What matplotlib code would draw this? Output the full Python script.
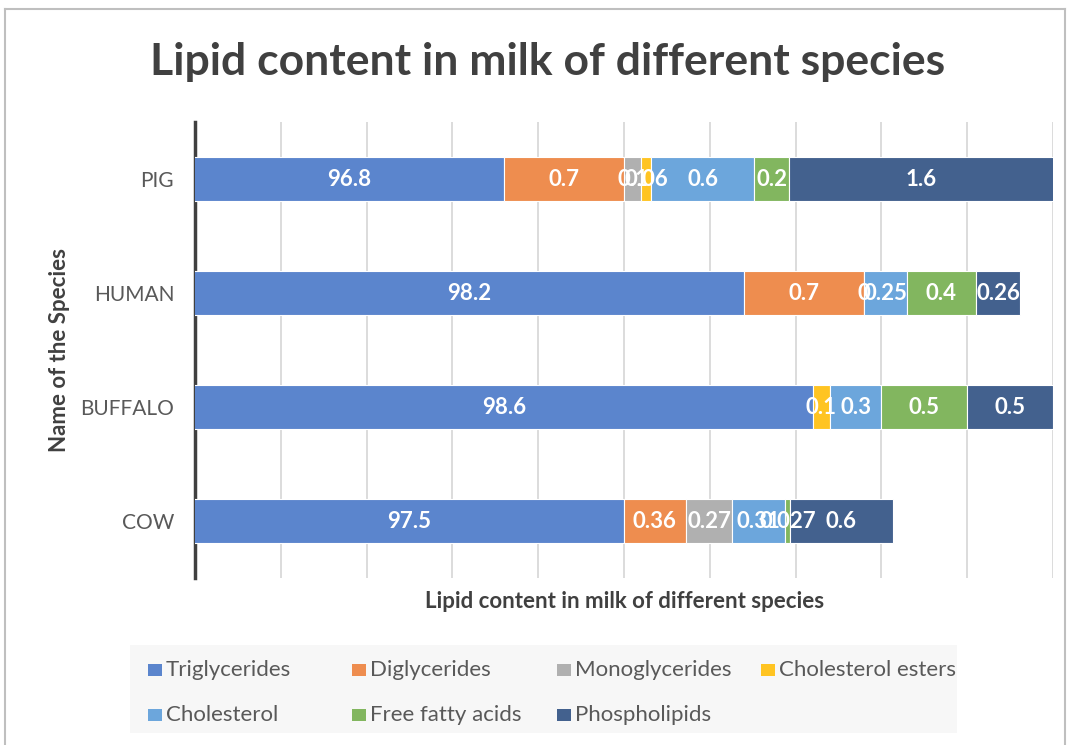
import matplotlib
matplotlib.use("Agg")
import matplotlib.pyplot as plt
from matplotlib.patches import Rectangle
from matplotlib.lines import Line2D
import numpy as np

nan = np.nan

species = ['COW', 'BUFFALO', 'HUMAN', 'PIG']
lipids = ['Triglycerides', 'Diglycerides', 'Monoglycerides', 'Cholesterol esters',
          'Cholesterol', 'Free fatty acids', 'Phospholipids']

triglycerides = [97.5, 98.6, 98.2, 96.8]
diglycerides = [0.36, nan, 0.7, 0.7]
monoglycerides = [0.27, nan, nan, 0.1]
cholesterol_esters = [nan, 0.1, 0, 0.06]
cholesterol = [0.31, 0.3, 0.25, 0.6]
free_fatty_acids = [0.027, 0.5, 0.4, 0.2]
phospholipids = [0.6, 0.5, 0.26, 1.6]

series = [triglycerides, diglycerides, monoglycerides, cholesterol_esters,
          cholesterol, free_fatty_acids, phospholipids]
colors = ['#5B85CD', '#EE8D4F', '#B0B0B0', '#FFC422', '#6CA6DC', '#82B65F', '#43618E']

W, H = 1070, 745
fig = plt.figure(figsize=(W / 100, H / 100), dpi=100)
plt.rcParams['font.family'] = ['Lato', 'DejaVu Sans']

# plot area in pixels: x 195..1053, y 122..578
ax = fig.add_axes([195 / W, 1 - 578 / H, 858 / W, 456 / H])
xmin, xmax = 95, 100
ax.set_xlim(xmin, xmax)
ax.set_ylim(-0.5, len(species) - 0.5)

y = np.arange(len(species))
left = np.zeros(len(species))
for vals, col, name in zip(series, colors, lipids):
    v = np.array(vals, dtype=float)
    present = ~np.isnan(v)
    vv = np.where(present, v, 0)
    ax.barh(y[present], vv[present], left=left[present], height=0.38,
            color=col, edgecolor='white', linewidth=0.8, label=name, zorder=3)
    for i in np.where(present)[0]:
        a = max(left[i], xmin)
        b = min(left[i] + vv[i], xmax)
        ax.text((a + b) / 2, y[i], f"{vals[i]:g}", ha='center', va='center',
                color='white', fontsize=16, fontweight='bold', zorder=4,
                clip_on=False)
    left = left + vv

ax.set_xticks(np.arange(xmin, xmax + 0.01, 0.5))
ax.set_xticklabels([])
ax.tick_params(axis='x', length=0)
ax.grid(axis='x', color='#D9D9D9', linewidth=1.3, zorder=0)
ax.set_axisbelow(True)

ax.set_yticks(y)
ax.set_yticklabels(species, fontsize=15, color='#595959')
ax.tick_params(axis='y', length=0, pad=15)

for s in ['top', 'right', 'bottom']:
    ax.spines[s].set_visible(False)
ax.spines['left'].set_color('#404040')
ax.spines['left'].set_linewidth(2.5)

fig.text(548 / W, 1 - 62 / H, 'Lipid content in milk of different species',
         ha='center', va='center', fontsize=32, fontweight='bold', color='#404040')
fig.text(625 / W, 1 - 601 / H, 'Lipid content in milk of different species',
         ha='center', va='center', fontsize=16, fontweight='bold', color='#404040')
fig.text(59 / W, 1 - 350 / H, 'Name of the Species', rotation=90,
         ha='center', va='center', fontsize=16, fontweight='bold', color='#404040')

# legend box and entries
fig.patches.append(Rectangle((130 / W, 1 - 733 / H), 827 / W, 88 / H,
                             transform=fig.transFigure, facecolor='#F7F7F7',
                             edgecolor='none', zorder=0))
leg_x = [155, 359, 564, 768, 155, 359, 564]
leg_y = [670, 670, 670, 670, 715, 715, 715]
for name, col, lx, ly in zip(lipids, colors, leg_x, leg_y):
    fig.patches.append(Rectangle(((lx - 7) / W, 1 - (ly + 6) / H), 14 / W, 12 / H,
                                 transform=fig.transFigure, facecolor=col,
                                 edgecolor='none'))
    fig.text((lx + 11) / W, 1 - ly / H, name, ha='left', va='center',
             fontsize=16, color='#595959')

# chart border
for xs, ys in [([5, 5], [9, H]), ([5, 1065], [9, 9]), ([1065, 1065], [9, H])]:
    fig.lines.append(Line2D([x / W for x in xs], [1 - v / H for v in ys],
                            transform=fig.transFigure, color='#BFBFBF', linewidth=1.5))

fig.savefig('out.png', dpi=100)
